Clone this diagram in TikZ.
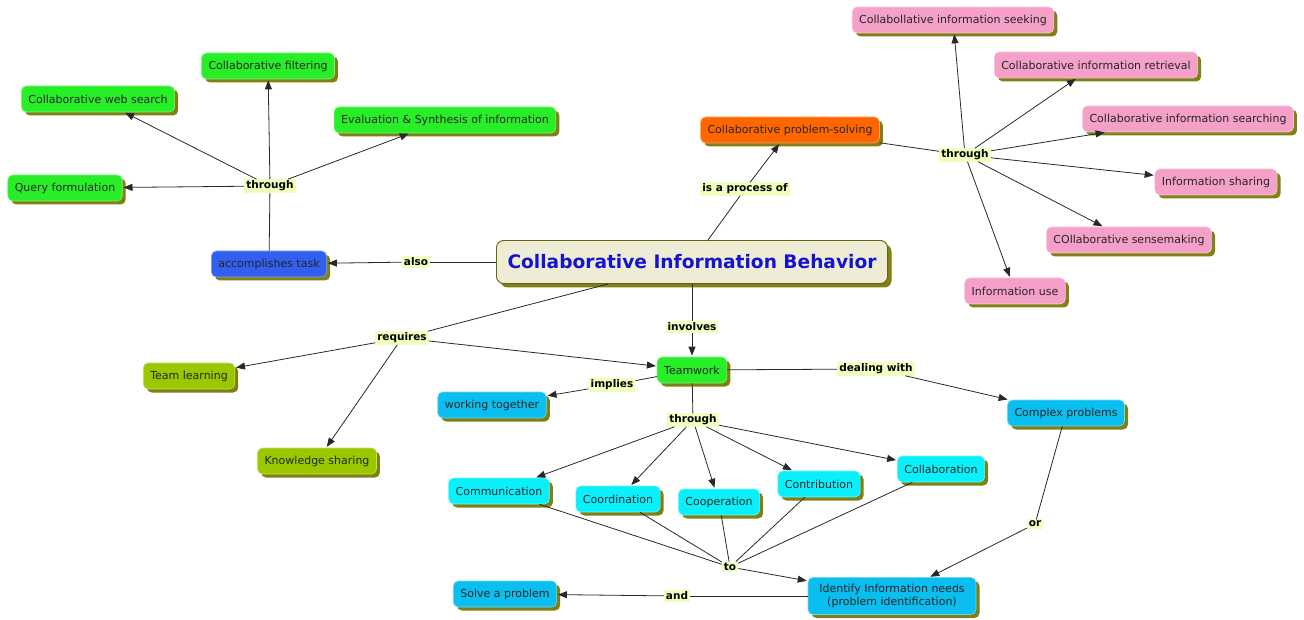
\documentclass[tikz,border=0pt]{standalone}
\usepackage{fontspec}
\setmainfont{DejaVu Sans}
\usetikzlibrary{shadows,arrows.meta}
\definecolor{cgreen}{RGB}{40,238,40}
\definecolor{cblue}{RGB}{50,95,240}
\definecolor{corange}{RGB}{255,102,0}
\definecolor{cpink}{RGB}{245,160,200}
\definecolor{colive}{RGB}{153,200,0}
\definecolor{csky}{RGB}{10,190,240}
\definecolor{ccyan}{RGB}{10,240,250}
\definecolor{cmain}{RGB}{238,236,212}
\definecolor{cshadow}{RGB}{128,128,20}
\definecolor{clabel}{RGB}{238,255,190}
\definecolor{ctitle}{RGB}{20,20,205}
\definecolor{cline}{RGB}{40,40,40}
\tikzset{
  concept/.style={rounded corners=5pt, draw=#1!60!white, line width=0.6pt, fill=#1,
    minimum height=26pt, inner xsep=7pt, font=\fontsize{11}{13}\selectfont, text=black!85,
    drop shadow={shadow xshift=3.5pt, shadow yshift=-3.5pt, fill=cshadow, opacity=1}},
  mainnode/.style={rounded corners=7pt, draw=cshadow!80!black, line width=0.9pt, fill=cmain,
    minimum width=391pt, minimum height=43pt, font=\fontsize{18.6}{20}\selectfont\bfseries, text=ctitle,
    drop shadow={shadow xshift=4pt, shadow yshift=-4pt, fill=cshadow, opacity=1}},
  lbl/.style={fill=clabel, inner xsep=2pt, inner ysep=1.5pt, font=\fontsize{10.5}{12}\selectfont\bfseries},
  ln/.style={draw=cline, line width=0.8pt},
  arr/.style={ln, -{Triangle[length=9pt,width=7pt]}, shorten >=1pt},
}
\begin{document}
\begin{tikzpicture}[x=1pt,y=-1pt]
\useasboundingbox (0,0) rectangle (1304,620);
% main
\node[mainnode] (main) at (692,262) {Collaborative Information Behavior};
% left cluster
\node[concept=cgreen] (filt) at (268,66) {Collaborative filtering};
\node[concept=cgreen] (web) at (98,99) {Collaborative web search};
\node[concept=cgreen] (eval) at (445,120) {Evaluation \& Synthesis of information};
\node[concept=cgreen] (query) at (65,188) {Query formulation};
\node[concept=cblue] (acc) at (269,264) {accomplishes task};
\node[lbl] (lt) at (270,186) {through};
\node[lbl] (also) at (416,262) {also};
% top right cluster
\node[concept=corange] (cps) at (790,130) {Collaborative problem-solving};
\node[lbl] (proc) at (745,189) {is a process of};
\node[lbl] (rt) at (965,155) {through};
\node[concept=cpink] (seek) at (953,20) {Collabollative information seeking};
\node[concept=cpink] (retr) at (1096,65) {Collaborative information retrieval};
\node[concept=cpink] (srch) at (1188,119) {Collaborative information searching};
\node[concept=cpink] (shar) at (1216,182) {Information sharing};
\node[concept=cpink] (sens) at (1129,240) {COllaborative sensemaking};
\node[concept=cpink] (use) at (1015,291) {Information use};
% lower cluster
\node[lbl] (inv) at (692,327) {involves};
\node[lbl] (req) at (402,338) {requires};
\node[concept=cgreen] (team) at (692,370) {Teamwork};
\node[concept=colive] (tl) at (189,376) {Team learning};
\node[concept=colive] (ks) at (317,461) {Knowledge sharing};
\node[lbl] (impl) at (612,385) {implies};
\node[concept=csky] (wt) at (492,405) {working together};
\node[lbl] (deal) at (876,369) {dealing with};
\node[concept=csky] (cp) at (1066,413) {Complex problems};
\node[lbl] (bt) at (693,420) {through};
\node[concept=ccyan] (comm) at (499,491) {Communication};
\node[concept=ccyan] (coord) at (618,499) {Coordination};
\node[concept=ccyan] (coop) at (719,502) {Cooperation};
\node[concept=ccyan] (contr) at (819,484) {Contribution};
\node[concept=ccyan] (colla) at (941,469) {Collaboration};
\node[lbl] (to) at (730,567) {to};
\node[lbl] (or) at (1035,524) {or};
\node[concept=csky, align=center, minimum height=37pt, minimum width=168pt] (iden) at (892,596) {Identify Information needs\\(problem identification)};
\node[lbl] (and) at (677,596) {and};
\node[concept=csky] (solve) at (505,594) {Solve a problem};
% connectors
\draw[ln] (main) -- (also);
\draw[arr] (also) -- (acc);
\draw[ln] (acc) -- (lt);
\draw[arr] (lt) -- (query);
\draw[arr] (lt) -- (web);
\draw[arr] (lt) -- (filt);
\draw[arr] (lt) -- (eval);
\draw[ln] (main) -- (proc);
\draw[arr] (proc) -- (cps);
\draw[ln] (cps) -- (rt);
\draw[arr] (rt) -- (seek);
\draw[arr] (rt) -- (retr);
\draw[arr] (rt) -- (srch);
\draw[arr] (rt) -- (shar);
\draw[arr] (rt) -- (sens);
\draw[arr] (rt) -- (use);
\draw[ln] (main) -- (inv);
\draw[arr] (inv) -- (team);
\draw[ln] (main) -- (req);
\draw[arr] (req) -- (tl);
\draw[arr] (req) -- (ks);
\draw[arr] (req) -- (team);
\draw[ln] (team) -- (impl);
\draw[arr] (impl) -- (wt);
\draw[ln] (team) -- (deal);
\draw[arr] (deal) -- (cp);
\draw[ln] (team) -- (bt);
\draw[arr] (bt) -- (comm);
\draw[arr] (bt) -- (coord);
\draw[arr] (bt) -- (coop);
\draw[arr] (bt) -- (contr);
\draw[arr] (bt) -- (colla);
\draw[ln] (comm) -- (to);
\draw[ln] (coord) -- (to);
\draw[ln] (coop) -- (to);
\draw[ln] (contr) -- (to);
\draw[ln] (colla) -- (to);
\draw[arr] (to) -- (iden);
\draw[ln] (cp) -- (or);
\draw[arr] (or) -- (iden);
\draw[ln] (iden) -- (and);
\draw[arr] (and) -- (solve);
\end{tikzpicture}
\end{document}
